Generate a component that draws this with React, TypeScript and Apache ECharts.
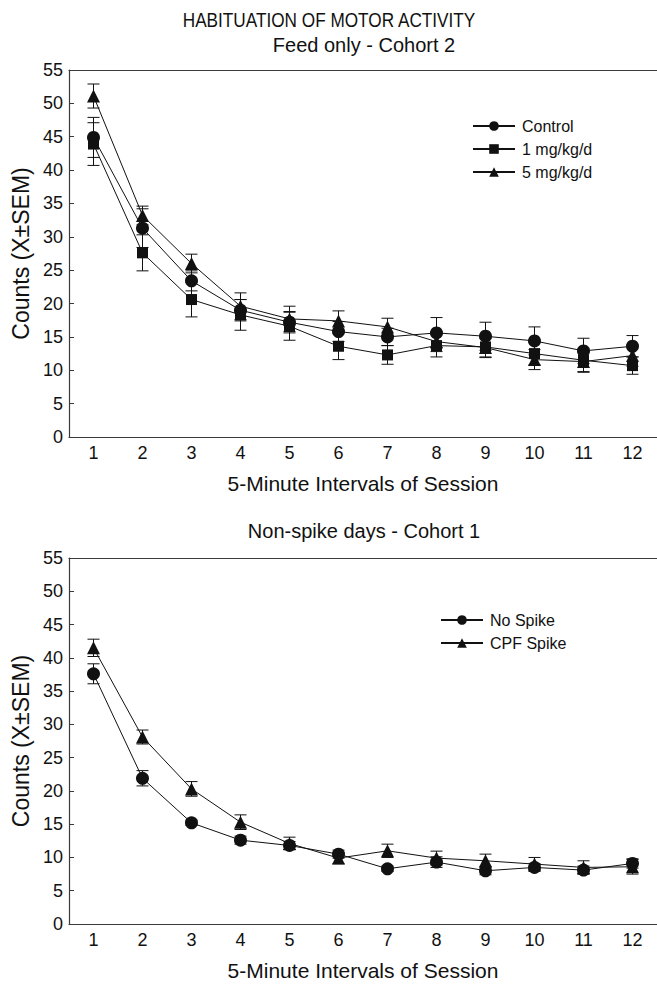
import React, { useEffect, useRef } from 'react';
import * as echarts from 'echarts';

const categories = ['1', '2', '3', '4', '5', '6', '7', '8', '9', '10', '11', '12'];

// Top panel: Feed only - Cohort 2
const controlMean = [44.9, 31.3, 23.4, 19.0, 17.2, 15.8, 15.0, 15.6, 15.1, 14.4, 12.9, 13.6];
const controlSem = [3.0, 2.9, 1.5, 1.6, 1.6, 1.5, 1.3, 2.3, 2.1, 2.1, 1.9, 1.6];
const low1Mean = [43.9, 27.6, 20.6, 18.3, 16.6, 13.6, 12.3, 13.7, 13.5, 12.5, 11.5, 10.7];
const low1Sem = [3.2, 2.7, 2.6, 2.3, 2.1, 2.0, 1.4, 1.7, 1.6, 1.7, 1.8, 1.3];
const high5Mean = [51.1, 33.2, 26.0, 19.6, 17.7, 17.4, 16.5, 14.3, 13.4, 11.6, 11.3, 12.2];
const high5Sem = [1.8, 1.4, 1.4, 2.0, 1.9, 1.5, 1.3, 1.5, 1.4, 1.5, 1.5, 1.6];

// Bottom panel: Non-spike days - Cohort 1
const noSpikeMean = [37.6, 21.9, 15.2, 12.6, 11.8, 10.5, 8.3, 9.3, 8.0, 8.5, 8.1, 9.1];
const noSpikeSem = [1.5, 1.15, 0.4, 0.6, 0.6, 0.6, 0.4, 0.8, 0.6, 0.6, 0.6, 0.7];
const cpfSpikeMean = [41.5, 28.1, 20.3, 15.3, 12.1, 9.9, 11.0, 9.9, 9.5, 9.0, 8.5, 8.6];
const cpfSpikeSem = [1.3, 1.05, 1.1, 1.1, 0.95, 0.85, 1.0, 1.05, 1.0, 1.0, 1.0, 1.1];

const FONT = '"Liberation Sans", Arial, sans-serif';
const INK = '#111';
const AXIS = '#3a3a3a';

function errData(mean: number[], sem: number[]) {
  return mean.map((m, i) => [i, m - sem[i], m + sem[i]]);
}

function errSeries(mean: number[], sem: number[], gi: number) {
  return {
    type: 'custom',
    xAxisIndex: gi,
    yAxisIndex: gi,
    z: 1,
    silent: true,
    encode: { x: 0, y: [1, 2] },
    data: errData(mean, sem),
    renderItem: (params: any, api: any) => {
      const x = api.value(0);
      const top = api.coord([x, api.value(2)]);
      const bot = api.coord([x, api.value(1)]);
      const hw = 6;
      const st = { stroke: INK, lineWidth: 1 };
      return {
        type: 'group',
        children: [
          { type: 'line', shape: { x1: top[0], y1: top[1], x2: bot[0], y2: bot[1] }, style: st },
          { type: 'line', shape: { x1: top[0] - hw, y1: top[1], x2: top[0] + hw, y2: top[1] }, style: st },
          { type: 'line', shape: { x1: bot[0] - hw, y1: bot[1], x2: bot[0] + hw, y2: bot[1] }, style: st },
        ],
      };
    },
  };
}

function lineSeries(name: string, data: number[], symbol: string, size: number, gi: number) {
  return {
    type: 'line',
    name,
    xAxisIndex: gi,
    yAxisIndex: gi,
    z: 3,
    data,
    symbol,
    symbolSize: size,
    lineStyle: { color: INK, width: 1 },
    itemStyle: { color: INK },
  };
}

function xAxis(gi: number) {
  return {
    type: 'category',
    gridIndex: gi,
    data: categories,
    boundaryGap: true,
    axisLine: { lineStyle: { color: AXIS, width: 1.2 } },
    axisTick: { alignWithLabel: true, inside: true, length: 5, lineStyle: { color: AXIS } },
    axisLabel: { color: INK, fontSize: 18, fontFamily: FONT, margin: 7 },
    name: '5-Minute Intervals of Session',
    nameLocation: 'middle',
    nameGap: 36,
    nameTextStyle: { color: INK, fontSize: 21, fontFamily: FONT },
    splitLine: { show: false },
  };
}

function topFrame(gi: number) {
  return {
    type: 'category',
    gridIndex: gi,
    position: 'top',
    data: categories,
    axisLine: { lineStyle: { color: AXIS, width: 1.2 } },
    axisTick: { show: false },
    axisLabel: { show: false },
    splitLine: { show: false },
  };
}

function yAxis(gi: number) {
  return {
    type: 'value',
    gridIndex: gi,
    min: 0,
    max: 55,
    interval: 5,
    axisLine: { show: true, lineStyle: { color: AXIS, width: 1.2 } },
    axisTick: { show: true, inside: true, length: 5, lineStyle: { color: AXIS } },
    axisLabel: { color: INK, fontSize: 18, fontFamily: FONT, margin: 6 },
    name: 'Counts (X\u00B1SEM)',
    nameLocation: 'middle',
    nameGap: 36,
    nameTextStyle: { color: INK, fontSize: 23, fontFamily: FONT },
    splitLine: { show: false },
  };
}

const legendText = { color: INK, fontSize: 16, fontFamily: FONT, padding: [0, 0, 0, 2] };

const option: any = {
  animation: false,
  backgroundColor: '#fff',
  textStyle: { fontFamily: FONT },
  grid: [
    { left: 69, top: 70, width: 590, height: 367 },
    { left: 69, top: 558, width: 590, height: 366 },
  ],
  xAxis: [xAxis(0), xAxis(1), topFrame(0), topFrame(1)],
  yAxis: [yAxis(0), yAxis(1)],
  legend: [
    {
      data: ['Control', '1 mg/kg/d', '5 mg/kg/d'],
      orient: 'vertical',
      left: 472,
      top: 118,
      padding: 0,
      itemWidth: 42,
      itemHeight: 12,
      itemGap: 7,
      textStyle: legendText,
      selectedMode: false,
    },
    {
      data: ['No Spike', 'CPF Spike'],
      orient: 'vertical',
      left: 440,
      top: 612,
      padding: 0,
      itemWidth: 42,
      itemHeight: 12,
      itemGap: 7,
      textStyle: legendText,
      selectedMode: false,
    },
  ],
  graphic: [
    { type: 'text', x: 329, y: 20, scaleX: 0.86, style: { text: 'HABITUATION OF MOTOR ACTIVITY', fill: INK, font: `20px ${FONT}`, textAlign: 'center', textVerticalAlign: 'middle' } },
    { type: 'text', x: 364, y: 45, style: { text: 'Feed only - Cohort 2', fill: INK, font: `20px ${FONT}`, textAlign: 'center', textVerticalAlign: 'middle' } },
    { type: 'text', x: 364, y: 531, style: { text: 'Non-spike days - Cohort 1', fill: INK, font: `20px ${FONT}`, textAlign: 'center', textVerticalAlign: 'middle' } },
  ],
  series: [
    errSeries(controlMean, controlSem, 0),
    errSeries(low1Mean, low1Sem, 0),
    errSeries(high5Mean, high5Sem, 0),
    lineSeries('Control', controlMean, 'circle', 13, 0),
    lineSeries('1 mg/kg/d', low1Mean, 'rect', 11, 0),
    lineSeries('5 mg/kg/d', high5Mean, 'triangle', 13, 0),
    errSeries(noSpikeMean, noSpikeSem, 1),
    errSeries(cpfSpikeMean, cpfSpikeSem, 1),
    lineSeries('No Spike', noSpikeMean, 'circle', 13, 1),
    lineSeries('CPF Spike', cpfSpikeMean, 'triangle', 13, 1),
  ],
};

export default function App() {
  const ref = useRef<HTMLDivElement>(null);
  useEffect(() => {
    const chart = echarts.init(ref.current as HTMLDivElement, null, { renderer: 'svg' });
    chart.setOption(option);
    return () => chart.dispose();
  }, []);
  return (
    <div
      ref={ref}
      style={{ position: 'absolute', left: 0, top: 0, width: 657, height: 984, background: '#fff' }}
    />
  );
}
